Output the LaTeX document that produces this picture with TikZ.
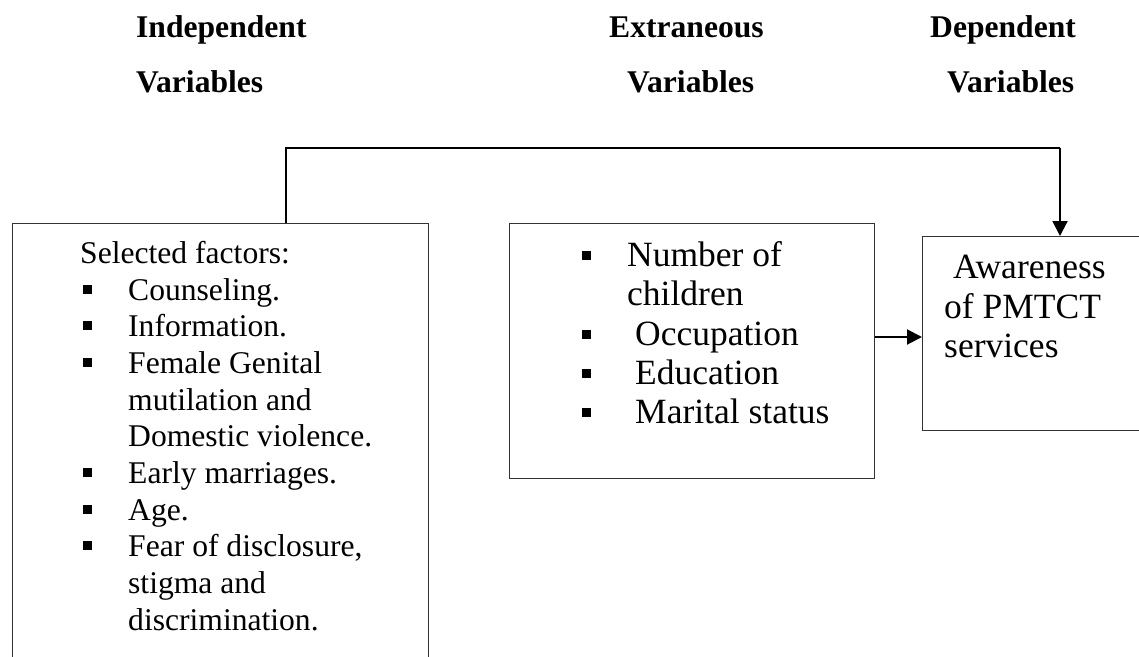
\documentclass[tikz,border=0pt]{standalone}
\usepackage{fontspec}
\setmainfont{Liberation Serif}
\usetikzlibrary{arrows.meta}
\tikzset{
  box/.style={draw=black!80, line width=1.4pt, anchor=north west, inner sep=0pt},
  conn/.style={draw=black, line width=2pt},
  arr/.style={conn, -{Triangle[length=15pt,width=15pt]}},
  head/.style={anchor=base west, inner sep=0pt, font=\fontsize{31.6}{36}\selectfont\bfseries},
  lt/.style={anchor=base west, inner sep=0pt, font=\fontsize{31.6}{36}\selectfont},
  pt/.style={anchor=base west, inner sep=0pt, font=\fontsize{35.5}{40}\selectfont},
}
\newcommand{\sqbul}[2]{\fill (#1-4.5,#2-15.5) rectangle ++(9,9);}
\begin{document}
\begin{tikzpicture}[x=1pt,y=-1pt]
\useasboundingbox (0,0) rectangle (1139,656);
% headings
\node[head] (h1a) at (136,37) {Independent};
\node[head] (h1b) at (136,92) {Variables};
\node[head] (h2a) at (609,37) {Extraneous};
\node[head] (h2b) at (627,92) {Variables};
\node[head] (h3a) at (930,37) {Dependent};
\node[head] (h3b) at (947,92) {Variables};
% boxes
\node[box, minimum width=416pt, minimum height=460pt] (indep) at (12,223) {};
\node[box, minimum width=365pt, minimum height=255pt] (extr) at (509,223) {};
\node[box, minimum width=260pt, minimum height=194pt] (dep) at (922,236) {};
% left box text
\node[lt] (l0) at (80,263) {Selected factors:};
\node[lt] (l1) at (128,300) {Counseling.};
\node[lt] (l2) at (128,336) {Information.};
\node[lt] (l3) at (128,373) {Female Genital};
\node[lt] (l4) at (128,410) {mutilation and};
\node[lt] (l5) at (128,446) {Domestic violence.};
\node[lt] (l6) at (128,483) {Early marriages.};
\node[lt] (l7) at (128,520) {Age.};
\node[lt] (l8) at (128,556) {Fear of disclosure,};
\node[lt] (l9) at (128,593) {stigma and};
\node[lt] (l10) at (128,630) {discrimination.};
\sqbul{87.5}{300}
\sqbul{87.5}{336}
\sqbul{87.5}{373}
\sqbul{87.5}{483}
\sqbul{87.5}{520}
\sqbul{87.5}{556}
% middle box text
\node[pt] (m1) at (627,266) {Number of};
\node[pt] (m2) at (627,305) {children};
\node[pt] (m3) at (635,345) {Occupation};
\node[pt] (m4) at (635,384) {Education};
\node[pt] (m5) at (635,423) {Marital status};
\sqbul{586}{266}
\sqbul{586}{345}
\sqbul{586}{384}
\sqbul{586}{423}
% right box text
\node[pt] (r1) at (953,278) {Awareness};
\node[pt] (r2) at (944,318) {of PMTCT};
\node[pt] (r3) at (944,357) {services};
% connectors
\coordinate (t1) at (286,148);
\coordinate (t2) at (1060,148);
\coordinate (mid) at (700,337);
\draw[conn] (indep.north -| t1) -- (t1) -- (t2);
\draw[arr] (t2) -- (dep.north -| t2);
\draw[arr] (extr.east |- mid) -- (dep.west |- mid);
\end{tikzpicture}
\end{document}
